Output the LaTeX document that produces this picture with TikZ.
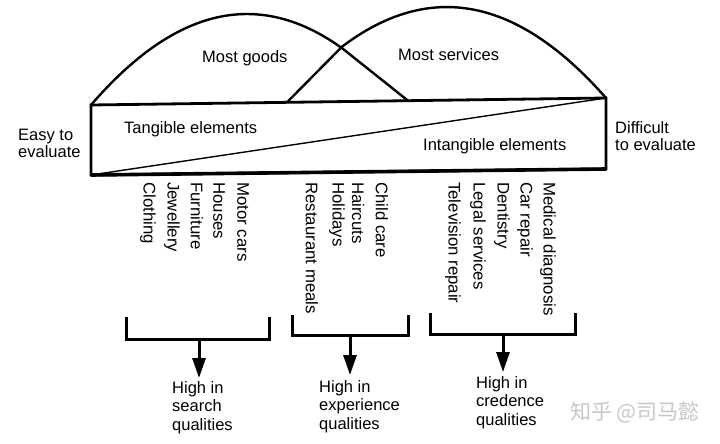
\documentclass[tikz,border=0pt]{standalone}
\usepackage{fontspec}
\setmainfont{Liberation Sans}
\newfontfamily\cjkfont{Noto Sans CJK SC}
\usetikzlibrary{arrows.meta}
\begin{document}
\begin{tikzpicture}[x=1pt,y=-1pt,
  boxline/.style={line width=2.8pt, line join=miter},
  domeline/.style={line width=2.4pt},
  diagline/.style={line width=1.4pt},
  bracketline/.style={line width=3pt, line join=miter},
  arrowline/.style={line width=3pt, -{Triangle[length=20pt,width=13pt]}},
  lbl/.style={inner sep=0pt, font=\fontsize{16.5}{17}\selectfont},
  item/.style={rotate=-90, anchor=west, inner sep=0pt, font=\fontsize{16.8}{18}\selectfont},
  qual/.style={anchor=north west, inner sep=0pt, align=left, font=\fontsize{16.5}{18.5}\selectfont},
  side/.style={anchor=base west, inner sep=0pt, align=left, font=\fontsize{16.5}{16.8}\selectfont}]
\useasboundingbox (0,0) rectangle (720,444);

% main box
\coordinate (TL) at (91,105);
\coordinate (TR) at (606,98);
\coordinate (BR) at (606,169);
\coordinate (BL) at (91,175);
\draw[boxline] (TL) -- (TR) -- (BR) -- (BL) -- cycle;
\draw[line width=3.6pt] (BL) -- (BR);
\draw[diagline] (BL) -- (TR);

% domes
\coordinate (X1) at (343,48.9);
\coordinate (G2) at (408,100.7);
\coordinate (S1) at (287,102.3);
\coordinate (X2) at (342,46.7);
\draw[domeline] (TL) .. controls (175.7,6.8) and (259.3,-11.9) .. (X1) -- (G2);
\draw[domeline] (S1) -- (X2) .. controls (429.7,-19.6) and (517.3,-2.9) .. (TR);

% labels in the diagram
\node[lbl, anchor=base west] (goods) at (202,63) {Most goods};
\node[lbl, anchor=base west] (serv) at (398,61) {Most services};
\node[lbl, anchor=base west] (tang) at (124,133) {Tangible elements};
\node[lbl, anchor=base west] (intang) at (423,150) {Intangible elements};
\node[side] (easy) at (18,157) {Easy to\\evaluate};
\node[side] (diff) at (615,150) {Difficult\\to evaluate};

% rotated items
\node[item] (i1) at (148,182) {Clothing};
\node[item] (i2) at (172,182) {Jewellery};
\node[item] (i3) at (197,182) {Furniture};
\node[item] (i4) at (219,182) {Houses};
\node[item] (i5) at (243,182) {Motor cars};
\node[item] (i6) at (312,182) {Restaurant meals};
\node[item] (i7) at (337,182) {Holidays};
\node[item] (i8) at (358,182) {Haircuts};
\node[item] (i9) at (382,182) {Child care};
\node[item] (i10) at (453,182) {Television repair};
\node[item] (i11) at (478,182) {Legal services};
\node[item] (i12) at (502,182) {Dentistry};
\node[item] (i13) at (525,182) {Car repair};
\node[item] (i14) at (548,182) {Medical diagnosis};

% brackets
\draw[bracketline] (126,317) |- (269,339) -- (269,317);
\draw[bracketline] (292,315) |- (408,335) -- (408,315);
\draw[bracketline] (430,313) |- (575,334) -- (575,313);

% quality texts
\node[qual] (q1) at (172,381) {High in\\search\\qualities};
\node[qual] (q2) at (319,380) {High in\\experience\\qualities};
\node[qual] (q3) at (476,376) {High in\\credence\\qualities};

% arrows
\coordinate (b1) at (199,339);
\coordinate (t1) at (199,378);
\coordinate (b2) at (350,335);
\coordinate (t2) at (350,375);
\coordinate (b3) at (503,334);
\coordinate (t3) at (503,372);
\draw[arrowline] (b1) -- (t1);
\draw[arrowline] (b2) -- (t2);
\draw[arrowline] (b3) -- (t3);

% watermark
\node[anchor=west, inner sep=0pt, text=black!22, font=\cjkfont\fontsize{21}{21}\selectfont] (wm) at (570,412) {知乎 @司马懿};
\end{tikzpicture}
\end{document}
